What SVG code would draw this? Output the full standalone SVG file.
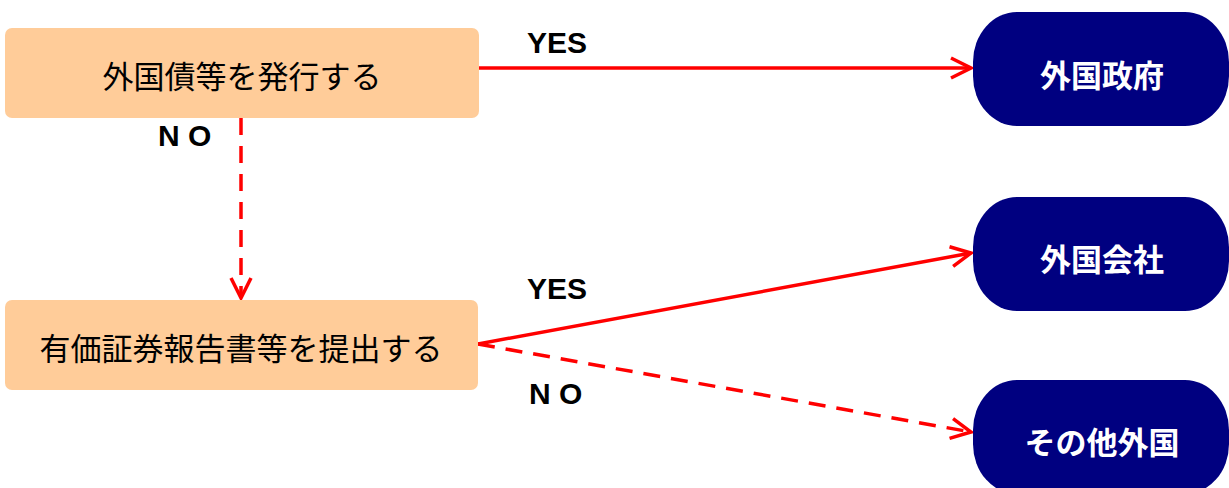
<svg xmlns="http://www.w3.org/2000/svg" width="1229" height="488" viewBox="0 0 1229 488">
<style>
.box{fill:#FFCC99;}
.term{fill:#000080;}
.btxt{font-family:"Noto Sans CJK JP","Noto Sans",sans-serif;font-size:31px;fill:#000;text-anchor:middle;dominant-baseline:central;}
.ttxt{font-family:"Noto Sans CJK JP","Noto Sans",sans-serif;font-size:31px;font-weight:bold;fill:#fff;text-anchor:middle;dominant-baseline:central;}
.lbl{font-family:"Liberation Sans",Arial,sans-serif;font-size:30px;font-weight:bold;fill:#000;}
.conn{stroke:#FF0000;stroke-width:3.5;fill:none;}
.dash{stroke-dasharray:17 11;}
</style>
<defs>
<marker id="arr" viewBox="0 0 24 24" refX="22" refY="12" markerWidth="24" markerHeight="24" markerUnits="userSpaceOnUse" orient="auto">
<path d="M2 2 L22 12 L2 22" fill="none" stroke="#FF0000" stroke-width="3.5"/>
</marker>
</defs>
<rect width="1229" height="488" fill="#fff"/>
<g id="connectors">
<line class="conn" x1="479" y1="68" x2="971" y2="68" marker-end="url(#arr)"/>
<line class="conn dash" x1="241" y1="118" x2="241" y2="298" marker-end="url(#arr)"/>
<line class="conn" x1="478" y1="344" x2="971" y2="253" marker-end="url(#arr)"/>
<line class="conn dash" x1="478" y1="344" x2="971" y2="432" marker-end="url(#arr)"/>
<text class="lbl" x="527" y="53">YES</text>
<text class="lbl" x="158" y="146">N O</text>
<text class="lbl" x="527" y="299">YES</text>
<text class="lbl" x="529" y="404">N O</text>
</g>
<g id="node-issue">
<rect class="box" x="5" y="28" width="474" height="90" rx="7"/>
<text class="btxt" x="242" y="74">外国債等を発行する</text>
</g>
<g id="node-report">
<rect class="box" x="5" y="300" width="473" height="90" rx="7"/>
<text class="btxt" x="241" y="346">有価証券報告書等を提出する</text>
</g>
<g id="node-gov">
<rect class="term" x="973" y="12" width="256" height="114" rx="44" ry="50"/>
<text class="ttxt" x="1102" y="73">外国政府</text>
</g>
<g id="node-company">
<rect class="term" x="973" y="197" width="256" height="114" rx="44" ry="50"/>
<text class="ttxt" x="1102" y="257">外国会社</text>
</g>
<g id="node-other">
<rect class="term" x="973" y="380" width="256" height="114" rx="44" ry="50"/>
<text class="ttxt" x="1102" y="440">その他外国</text>
</g>
</svg>
